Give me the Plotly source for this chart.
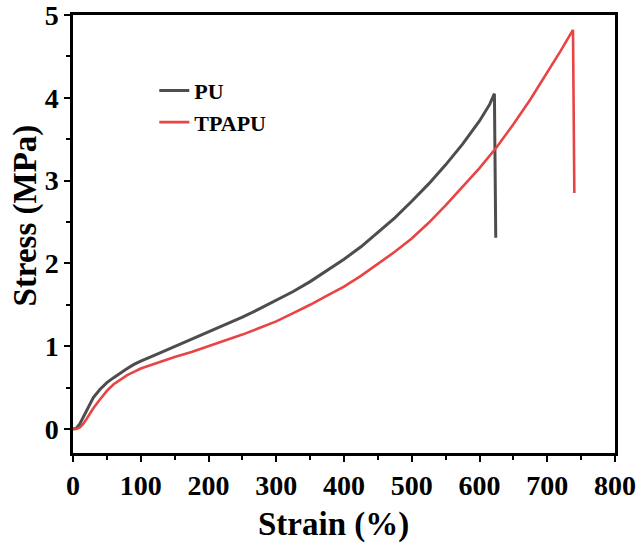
import plotly.graph_objects as go

# ---- data ----
pu_strain = [0, 5, 10, 15, 20, 25, 30, 40, 50, 60, 70, 80, 90, 100, 120, 140, 160,
             180, 200, 225, 250, 275, 300, 325, 350, 375, 400, 425, 450, 475, 500,
             525, 550, 575, 600, 615, 622, 624]
pu_stress = [0, 0.01, 0.06, 0.14, 0.23, 0.31, 0.38, 0.48, 0.56, 0.62, 0.68, 0.73,
             0.78, 0.82, 0.89, 0.96, 1.03, 1.1, 1.17, 1.26, 1.35, 1.45, 1.55, 1.66,
             1.78, 1.91, 2.05, 2.2, 2.37, 2.55, 2.75, 2.96, 3.19, 3.44, 3.72, 3.92,
             4.05, 2.31]

tpapu_strain = [0, 5, 10, 15, 20, 25, 30, 40, 50, 60, 70, 80, 90, 100, 125, 150,
                175, 200, 225, 250, 275, 300, 325, 350, 375, 400, 425, 450, 475,
                500, 525, 550, 575, 600, 625, 650, 675, 700, 720, 738, 740]
tpapu_stress = [0, 0.0, 0.02, 0.06, 0.12, 0.19, 0.25, 0.36, 0.46, 0.54, 0.6, 0.65,
                0.69, 0.73, 0.8, 0.87, 0.93, 1.0, 1.07, 1.14, 1.22, 1.3, 1.4, 1.5,
                1.61, 1.72, 1.85, 1.99, 2.14, 2.3, 2.49, 2.7, 2.92, 3.15, 3.4, 3.68,
                3.98, 4.3, 4.57, 4.82, 2.85]

x_ticks = [0, 100, 200, 300, 400, 500, 600, 700, 800]
y_ticks = [0, 1, 2, 3, 4, 5]
x_title = "Strain (%)"
y_title = "Stress (MPa)"

FONT = "Liberation Serif"

fig = go.Figure()
fig.add_trace(go.Scatter(x=pu_strain, y=pu_stress, mode="lines", name="PU",
                         line=dict(color="#4d4d4d", width=3)))
fig.add_trace(go.Scatter(x=tpapu_strain, y=tpapu_stress, mode="lines", name="TPAPU",
                         line=dict(color="#e84444", width=2.6)))

axis_common = dict(
    showline=True, linecolor="black", linewidth=2.5, mirror=True,
    ticks="outside", ticklen=6, tickwidth=2, tickcolor="black",
    showgrid=False, zeroline=False, automargin=False,
    ticklabeloverflow="allow",
    tickfont=dict(family=FONT, size=28, color="black", weight="bold"),
)

fig.update_xaxes(range=[0, 800], tickvals=x_ticks,
                 minor=dict(dtick=50, ticks="outside", ticklen=4, tickwidth=2, tickcolor="black"),
                 **axis_common)
fig.update_yaxes(range=[-0.29, 5], tickvals=y_ticks,
                 minor=dict(dtick=0.5, ticks="outside", ticklen=4, tickwidth=2, tickcolor="black"),
                 **axis_common)

fig.add_annotation(text=x_title, xref="paper", yref="paper", x=0.4815, y=-0.164,
                   xanchor="center", yanchor="middle", showarrow=False,
                   font=dict(family=FONT, size=33, color="black", weight="bold"))
fig.add_annotation(text=y_title, xref="paper", yref="paper", x=-0.088, y=0.543,
                   xanchor="center", yanchor="middle", showarrow=False, textangle=-90,
                   font=dict(family=FONT, size=33, color="black", weight="bold"))

fig.update_layout(
    width=638, height=548,
    margin=dict(l=73, r=23, t=15, b=95),
    plot_bgcolor="white", paper_bgcolor="white",
    legend=dict(x=0.15, y=0.875, xanchor="left", yanchor="top",
                bgcolor="rgba(0,0,0,0)", tracegroupgap=0,
                font=dict(family=FONT, size=22, color="black", weight="bold")),
)

fig.write_html("out.html", config={"displayModeBar": False},
               post_script="document.body.style.margin='0';document.body.style.overflow='hidden';")
